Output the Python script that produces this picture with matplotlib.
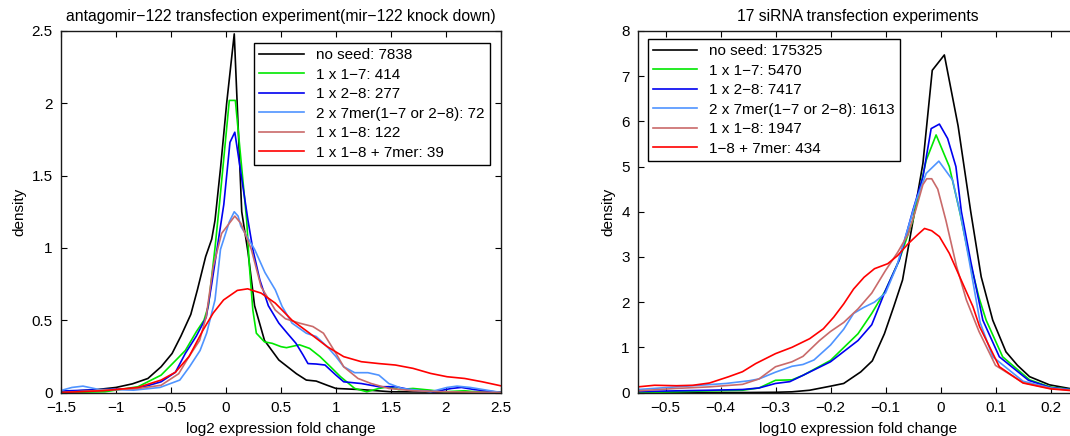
import matplotlib
matplotlib.use("Agg")
import matplotlib.pyplot as plt
from matplotlib.ticker import FuncFormatter, MultipleLocator

plt.rcParams['font.family'] = ['Liberation Sans', 'DejaVu Sans']
plt.rcParams['axes.unicode_minus'] = True

# ---------------- Left panel data (log2 fold change) ----------------
L_black_x = [-1.5, -1.2, -1.0, -0.85, -0.71, -0.59, -0.49, -0.41, -0.32, -0.26, -0.185, -0.13, -0.1, -0.05, 0.006, 0.075, 0.143, 0.2, 0.26, 0.35, 0.48, 0.64, 0.73, 0.82, 0.92, 1.0, 1.23, 1.5, 2.0, 2.5]
L_black_y = [0.005, 0.018, 0.035, 0.06, 0.097, 0.178, 0.27, 0.39, 0.54, 0.71, 0.94, 1.06, 1.19, 1.55, 2.0, 2.48, 1.25, 0.97, 0.6, 0.36, 0.225, 0.13, 0.086, 0.079, 0.05, 0.028, 0.02, 0.005, 0.003, 0.002]

L_green_x = [-1.5, -1.1, -0.8, -0.59, -0.46, -0.37, -0.27, -0.2, -0.16, -0.1, -0.06, 0.03, 0.085, 0.188, 0.213, 0.244, 0.276, 0.35, 0.42, 0.5, 0.55, 0.667, 0.76, 0.855, 0.95, 1.04, 1.17, 1.28, 1.39, 1.48, 1.57, 1.7, 1.86, 1.98, 2.17, 2.33, 2.5]
L_green_y = [0.0, 0.005, 0.04, 0.12, 0.22, 0.29, 0.42, 0.5, 0.6, 1.0, 1.3, 2.02, 2.02, 1.19, 0.87, 0.57, 0.41, 0.35, 0.34, 0.317, 0.31, 0.33, 0.305, 0.248, 0.178, 0.11, 0.028, 0.005, 0.028, 0.04, 0.02, 0.028, 0.016, 0.005, 0.012, 0.0, 0.0]

L_blue_x = [-1.5, -1.12, -0.8, -0.59, -0.46, -0.37, -0.27, -0.18, -0.13, -0.08, -0.02, 0.036, 0.08, 0.2, 0.244, 0.307, 0.385, 0.48, 0.557, 0.636, 0.7, 0.745, 0.82, 0.9, 1.0, 1.07, 1.23, 1.39, 1.54, 1.7, 1.89, 2.05, 2.14, 2.26, 2.5]
L_blue_y = [0.01, 0.02, 0.028, 0.074, 0.14, 0.27, 0.39, 0.52, 0.75, 1.0, 1.3, 1.73, 1.8, 1.19, 0.99, 0.78, 0.6, 0.48, 0.41, 0.34, 0.26, 0.2, 0.197, 0.19, 0.12, 0.074, 0.062, 0.04, 0.04, 0.016, 0.005, 0.028, 0.035, 0.02, 0.0]

L_lblue_x = [-1.5, -1.4, -1.3, -1.15, -1.0, -0.84, -0.6, -0.42, -0.33, -0.236, -0.176, -0.1, -0.05, 0.03, 0.075, 0.11, 0.135, 0.26, 0.354, 0.448, 0.51, 0.6, 0.73, 0.82, 0.92, 1.0, 1.07, 1.17, 1.29, 1.39, 1.48, 1.6, 1.86, 2.01, 2.1, 2.22, 2.5]
L_lblue_y = [0.014, 0.035, 0.044, 0.02, 0.02, 0.016, 0.035, 0.086, 0.18, 0.29, 0.41, 0.64, 0.99, 1.18, 1.25, 1.22, 1.15, 0.99, 0.83, 0.71, 0.595, 0.48, 0.41, 0.387, 0.317, 0.248, 0.178, 0.137, 0.137, 0.12, 0.062, 0.028, 0.005, 0.035, 0.044, 0.035, 0.0]

L_rosy_x = [-1.5, -1.12, -0.8, -0.59, -0.43, -0.335, -0.24, -0.18, -0.116, -0.04, 0.03, 0.08, 0.135, 0.23, 0.32, 0.448, 0.54, 0.667, 0.79, 0.886, 1.0, 1.07, 1.2, 1.32, 1.48, 1.7, 2.0, 2.5]
L_rosy_y = [0.0, 0.016, 0.028, 0.05, 0.13, 0.25, 0.36, 0.525, 0.87, 1.1, 1.17, 1.22, 1.17, 0.99, 0.73, 0.57, 0.51, 0.48, 0.456, 0.41, 0.27, 0.178, 0.097, 0.062, 0.028, 0.012, 0.005, 0.0]

L_red_x = [-1.5, -1.12, -0.8, -0.59, -0.46, -0.335, -0.21, -0.116, -0.022, 0.103, 0.197, 0.32, 0.448, 0.6, 0.76, 0.92, 1.07, 1.23, 1.39, 1.54, 1.7, 1.86, 2.01, 2.17, 2.33, 2.5]
L_red_y = [0.0, 0.012, 0.035, 0.086, 0.14, 0.25, 0.43, 0.55, 0.64, 0.706, 0.717, 0.687, 0.618, 0.5, 0.41, 0.317, 0.248, 0.213, 0.2, 0.19, 0.167, 0.132, 0.109, 0.097, 0.074, 0.046]

L_labels = ["no seed: 7838", "1 x 1−7: 414", "1 x 2−8: 277",
            "2 x 7mer(1−7 or 2−8): 72", "1 x 1−8: 122", "1 x 1−8 + 7mer: 39"]

# ---------------- Right panel data (log10 fold change) ----------------
R_black_x = [-0.55, -0.35, -0.3, -0.27, -0.238, -0.2, -0.176, -0.145, -0.124, -0.102, -0.085, -0.069, -0.05, -0.032, -0.015, 0.007, 0.032, 0.055, 0.074, 0.095, 0.119, 0.14, 0.162, 0.198, 0.234, 0.25]
R_black_y = [0.0, 0.0, 0.005, 0.015, 0.05, 0.14, 0.2, 0.456, 0.7, 1.3, 1.9, 2.49, 3.8, 5.07, 7.13, 7.47, 5.9, 4.0, 2.56, 1.6, 0.9, 0.6, 0.35, 0.17, 0.09, 0.07]

R_green_x = [-0.55, -0.48, -0.42, -0.36, -0.33, -0.3, -0.27, -0.25, -0.2, -0.15, -0.125, -0.1, -0.075, -0.05, -0.026, -0.008, 0.016, 0.035, 0.053, 0.07, 0.083, 0.113, 0.162, 0.2, 0.25]
R_green_y = [0.0, 0.015, 0.037, 0.05, 0.1, 0.27, 0.28, 0.38, 0.71, 1.3, 1.75, 2.26, 2.93, 3.82, 5.14, 5.7, 5.0, 4.0, 2.93, 2.1, 1.6, 0.79, 0.28, 0.12, 0.05]

R_blue_x = [-0.55, -0.48, -0.42, -0.36, -0.33, -0.3, -0.274, -0.25, -0.2, -0.15, -0.125, -0.1, -0.075, -0.05, -0.032, -0.017, -0.002, 0.013, 0.028, 0.038, 0.055, 0.077, 0.107, 0.16, 0.2, 0.25]
R_blue_y = [0.02, 0.037, 0.05, 0.066, 0.1, 0.2, 0.24, 0.38, 0.68, 1.15, 1.5, 2.26, 2.93, 4.04, 4.77, 5.84, 5.94, 5.62, 5.0, 4.0, 2.9, 1.6, 0.79, 0.27, 0.11, 0.05]

R_lblue_x = [-0.55, -0.45, -0.39, -0.348, -0.33, -0.3, -0.27, -0.25, -0.23, -0.2, -0.176, -0.158, -0.14, -0.12, -0.1, -0.08, -0.062, -0.044, -0.026, -0.003, 0.022, 0.037, 0.052, 0.072, 0.095, 0.15, 0.2, 0.25]
R_lblue_y = [0.066, 0.15, 0.2, 0.26, 0.3, 0.45, 0.58, 0.62, 0.72, 1.05, 1.4, 1.75, 1.88, 2.0, 2.2, 2.78, 3.52, 4.26, 4.85, 5.12, 4.7, 3.9, 2.93, 1.55, 0.79, 0.25, 0.1, 0.04]

R_rosy_x = [-0.55, -0.48, -0.42, -0.36, -0.33, -0.3, -0.27, -0.25, -0.22, -0.2, -0.176, -0.15, -0.125, -0.1, -0.078, -0.059, -0.045, -0.032, -0.025, -0.016, -0.005, 0.01, 0.029, 0.047, 0.07, 0.1, 0.15, 0.2, 0.25]
R_rosy_y = [0.037, 0.09, 0.125, 0.18, 0.3, 0.57, 0.68, 0.8, 1.15, 1.35, 1.55, 1.85, 2.2, 2.7, 3.1, 3.5, 4.04, 4.6, 4.73, 4.73, 4.5, 3.8, 2.8, 2.05, 1.35, 0.6, 0.22, 0.09, 0.04]

R_red_x = [-0.55, -0.52, -0.48, -0.45, -0.42, -0.385, -0.36, -0.336, -0.3, -0.27, -0.238, -0.213, -0.194, -0.176, -0.158, -0.139, -0.12, -0.096, -0.078, -0.059, -0.04, -0.029, -0.016, -0.002, 0.016, 0.035, 0.059, 0.071, 0.107, 0.15, 0.2, 0.25]
R_red_y = [0.125, 0.16, 0.15, 0.16, 0.21, 0.35, 0.46, 0.64, 0.86, 1.0, 1.19, 1.41, 1.67, 1.96, 2.29, 2.55, 2.74, 2.85, 3.03, 3.29, 3.51, 3.63, 3.58, 3.45, 3.08, 2.56, 1.9, 1.46, 0.57, 0.21, 0.08, 0.03]

R_labels = ["no seed: 175325", "1 x 1−7: 5470", "1 x 2−8: 7417",
            "2 x 7mer(1−7 or 2−8): 1613", "1 x 1−8: 1947", "1−8 + 7mer: 434"]

colors = ['#000000', '#00e800', '#0000f0', '#4f94ff', '#c96a6a', '#ff0000']

W, H = 1070, 436
fig = plt.figure(figsize=(W / 100, H / 100), dpi=100)
bottom = (H - 392.5) / H
height = 361.5 / H
ax1 = fig.add_axes([61 / W, bottom, 440 / W, height])
ax2 = fig.add_axes([638 / W, bottom, 440 / W, height])

fs = 11
fmt = FuncFormatter(lambda v, p: ('%g' % round(v, 6)).replace('-', '−'))

L_series = [(L_black_x, L_black_y), (L_green_x, L_green_y), (L_blue_x, L_blue_y),
            (L_lblue_x, L_lblue_y), (L_rosy_x, L_rosy_y), (L_red_x, L_red_y)]
R_series = [(R_black_x, R_black_y), (R_green_x, R_green_y), (R_blue_x, R_blue_y),
            (R_lblue_x, R_lblue_y), (R_rosy_x, R_rosy_y), (R_red_x, R_red_y)]

for ax, series, labels in [(ax1, L_series, L_labels), (ax2, R_series, R_labels)]:
    for (xs, ys), c, lab in zip(series, colors, labels):
        ax.plot(xs, ys, color=c, lw=1.2, label=lab, clip_on=True)
    ax.tick_params(direction='in', top=True, right=True, length=4, width=0.8,
                   labelsize=fs, pad=6, colors='black')
    for s in ax.spines.values():
        s.set_linewidth(1.0)
        s.set_color('#1a1a1a')
    ax.xaxis.set_major_formatter(fmt)
    ax.yaxis.set_major_formatter(fmt)
    ax.set_ylabel('density', fontsize=fs, labelpad=4)

ax1.set_xlim(-1.5, 2.5)
ax1.set_ylim(0, 2.5)
ax1.xaxis.set_major_locator(MultipleLocator(0.5))
ax1.yaxis.set_major_locator(MultipleLocator(0.5))
ax1.set_xlabel('log2 expression fold change', fontsize=fs, labelpad=5)
ax1.set_title('antagomir−122 transfection experiment(mir−122 knock down)', fontsize=11.3, pad=7)

ax2.set_xlim(-0.55, 0.25)
ax2.set_ylim(0, 8)
ax2.set_xticks([-0.5, -0.4, -0.3, -0.2, -0.1, 0, 0.1, 0.2])
ax2.yaxis.set_major_locator(MultipleLocator(1))
ax2.set_xlabel('log10 expression fold change', fontsize=fs, labelpad=5)
ax2.set_title('17 siRNA transfection experiments', fontsize=11.3, pad=7)

for ax, (lx, ty) in [(ax1, (254, 43)), (ax2, (647.5, 39))]:
    leg = ax.legend(loc='upper left', bbox_to_anchor=(lx / W, 1 - ty / H),
                    bbox_transform=fig.transFigure, borderaxespad=0,
                    fontsize=fs, frameon=True, fancybox=False, framealpha=1,
                    edgecolor='black', handlelength=2.9, handletextpad=0.8,
                    labelspacing=0.36, borderpad=0.35)
    leg.get_frame().set_linewidth(1.0)

fig.savefig('out.png', dpi=100)
